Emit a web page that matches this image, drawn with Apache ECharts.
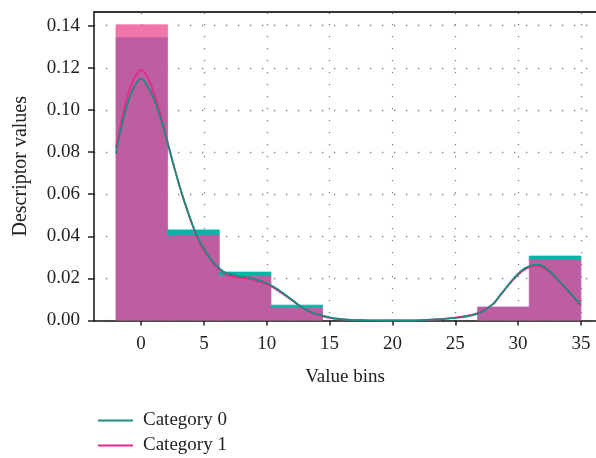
<!DOCTYPE html>
<html>
<head>
<meta charset="utf-8">
<script src="https://cdn.jsdelivr.net/npm/echarts@6/dist/echarts.min.js"></script>
<style>
  html, body { margin: 0; padding: 0; background: #fff; }
  #chart { width: 596px; height: 458px; }
</style>
</head>
<body>
<div id="chart"></div>
<script>
// histogram bins (edges) and bar heights per category
const binEdges = [-2, 2.11, 6.22, 10.33, 14.44, 18.56, 22.67, 26.78, 30.89, 35]
const cat0Hist = [0.1347, 0.043, 0.023, 0.0073, 0, 0, 0, 0.0064, 0.0306]
const cat1Hist = [0.1404, 0.0408, 0.0215, 0.0063, 0, 0, 0, 0.0064, 0.0289]

// density curves, sampled along kdeX
const kdeX = [-2, -1.5, -1, -0.5, 0, 0.5, 1, 1.5, 2, 2.5, 3, 3.5, 4, 4.5, 5, 5.5, 6, 6.5, 7, 8, 9, 10, 11, 12, 13, 14, 15, 16, 17, 18, 20, 22, 24, 25, 26, 27, 28, 28.5, 29, 29.5, 30, 30.5, 31, 31.5, 32, 32.5, 33, 33.5, 34, 34.5, 35]
const cat0Kde = [0.0794, 0.0935, 0.1045, 0.1115, 0.1147, 0.1115, 0.1055, 0.097, 0.0865, 0.0755, 0.065, 0.0555, 0.047, 0.0395, 0.034, 0.0295, 0.026, 0.0235, 0.022, 0.021, 0.0198, 0.0178, 0.0143, 0.0099, 0.0055, 0.003, 0.0015, 0.0006, 0.0002, 0.0001, 0, 0.0001, 0.0007, 0.0012, 0.002, 0.0038, 0.0078, 0.0115, 0.0152, 0.019, 0.0222, 0.0247, 0.0261, 0.0267, 0.0257, 0.0235, 0.0205, 0.0173, 0.014, 0.0107, 0.0075]
const cat1Kde = [0.0821, 0.0965, 0.108, 0.1155, 0.119, 0.1157, 0.1085, 0.0985, 0.0873, 0.0758, 0.065, 0.0553, 0.0466, 0.039, 0.0335, 0.029, 0.0254, 0.0229, 0.0213, 0.0202, 0.0192, 0.0172, 0.0138, 0.0096, 0.0054, 0.0028, 0.0013, 0.0005, 0.0002, 0.0001, 0, 0.0001, 0.0008, 0.0014, 0.0023, 0.004, 0.0078, 0.0113, 0.015, 0.0186, 0.0217, 0.0241, 0.0254, 0.0259, 0.0251, 0.0231, 0.0202, 0.017, 0.0137, 0.0104, 0.0072]

const xTicks = [0, 5, 10, 15, 20, 25, 30, 35]
const yTicks = [0, 0.02, 0.04, 0.06, 0.08, 0.1, 0.12, 0.14]

const FONT = 'Liberation Serif'
const FS = 19
const TEAL = '#00b5a5'
const PINK = '#f075aa'
const OVERLAP = '#bd5ea0'

const histData = cat0Hist.map((v, i) => [binEdges[i], binEdges[i + 1], v, cat1Hist[i]])

const chart = echarts.init(document.getElementById('chart'))

const gridLine = { show: true, lineStyle: { color: '#808080', width: 1.3, type: [1.3, 10.7] } }

const legendBase = (name, top) => ({
  data: [name],
  left: 93,
  top: top,
  icon: 'rect',
  itemWidth: 35,
  itemHeight: 2,
  textStyle: { fontFamily: FONT, fontSize: FS, color: '#222', padding: [0, 0, 0, 5] }
})

const rect = (x0, x1, y0, y1, api, fill) => {
  const p0 = api.coord([x0, y0])
  const p1 = api.coord([x1, y1])
  return {
    type: 'rect',
    shape: { x: p0[0], y: p1[1], width: p1[0] - p0[0], height: p0[1] - p1[1] },
    style: { fill: fill, stroke: fill, lineWidth: 0.8 }
  }
}

chart.setOption({
  animation: false,
  grid: { left: 94, right: 0, top: 12, bottom: 137.5 },
  legend: [legendBase('Category 0', 406), legendBase('Category 1', 431)],
  xAxis: [
    {
      type: 'value',
      min: -3.75,
      max: 36.2,
      position: 'bottom',
      name: 'Value bins',
      nameLocation: 'middle',
      nameGap: 47,
      nameTextStyle: { fontFamily: FONT, fontSize: FS, color: '#222' },
      axisLine: { onZero: false, lineStyle: { color: '#111', width: 1.5 } },
      axisTick: { customValues: xTicks, length: 5, lineStyle: { color: '#222', width: 1.5 } },
      axisLabel: { customValues: xTicks, margin: 14, fontFamily: FONT, fontSize: FS, color: '#222' },
      splitLine: gridLine
    },
    {
      type: 'value',
      min: -3.75,
      max: 36.2,
      position: 'top',
      axisLine: { onZero: false, lineStyle: { color: '#333', width: 2 } },
      axisTick: { customValues: xTicks, inside: true, length: 2, lineStyle: { color: '#555' } },
      axisLabel: { show: false },
      splitLine: { show: false }
    }
  ],
  yAxis: {
    type: 'value',
    min: 0,
    max: 0.1465,
    name: 'Descriptor values',
    nameLocation: 'middle',
    nameGap: 63,
    nameTextStyle: { fontFamily: FONT, fontSize: 20, color: '#222' },
    axisLine: { show: true, onZero: false, lineStyle: { color: '#111', width: 1.5 } },
    axisTick: { show: true, customValues: yTicks, length: 6, lineStyle: { color: '#222', width: 1.5 } },
    axisLabel: {
      customValues: yTicks,
      margin: 14,
      fontFamily: FONT,
      fontSize: FS,
      color: '#222',
      formatter: (v) => v.toFixed(2)
    },
    splitLine: gridLine
  },
  series: [
    {
      name: 'hist',
      type: 'custom',
      xAxisIndex: 0,
      z: 1,
      clip: true,
      encode: { x: [0, 1], y: [2, 3] },
      data: histData,
      renderItem: (params, api) => {
        const x0 = api.value(0)
        const x1 = api.value(1)
        const a = api.value(2)
        const b = api.value(3)
        const lo = Math.min(a, b)
        const hi = Math.max(a, b)
        const children = []
        if (lo > 0) children.push(rect(x0, x1, 0, lo, api, OVERLAP))
        if (hi > lo) children.push(rect(x0, x1, lo, hi, api, a > b ? TEAL : PINK))
        return { type: 'group', children }
      }
    },
    {
      name: 'Category 0',
      type: 'line',
      z: 3,
      symbol: 'none',
      smooth: 0.4,
      data: kdeX.map((x, i) => [x, cat0Kde[i]]),
      lineStyle: { color: '#1a8c7e', width: 1.8 },
      itemStyle: { color: '#1a8c7e' }
    },
    {
      name: 'Category 1',
      type: 'line',
      z: 2,
      symbol: 'none',
      smooth: 0.4,
      data: kdeX.map((x, i) => [x, cat1Kde[i]]),
      lineStyle: { color: '#e8288c', width: 1.8 },
      itemStyle: { color: '#e8288c' }
    }
  ]
})
</script>
</body>
</html>
